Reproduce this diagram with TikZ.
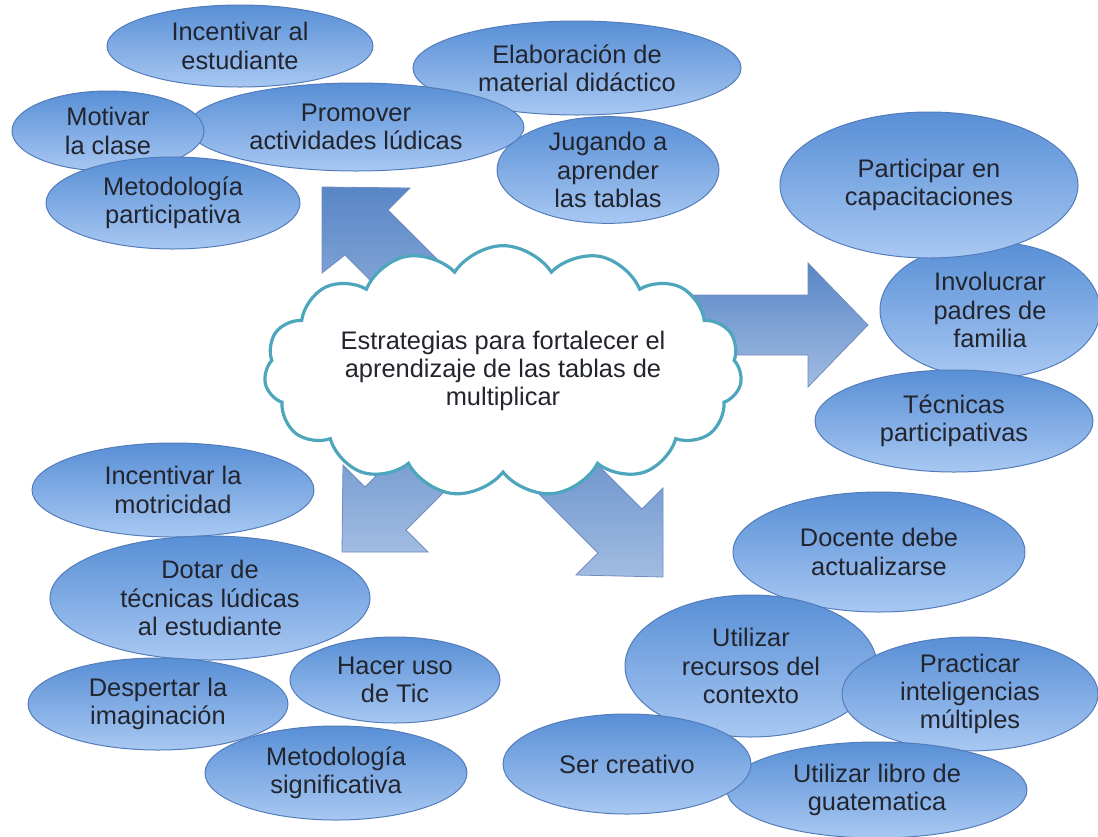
\documentclass[tikz,border=0pt]{standalone}
\usepackage{fontspec}
\setmainfont{Liberation Sans}
\usepackage{tikz}
\usetikzlibrary{shapes.geometric, shapes.symbols}

\definecolor{ovaltop}{RGB}{88,143,214}
\definecolor{ovalbot}{RGB}{168,200,242}
\definecolor{ovalline}{RGB}{84,124,186}
\definecolor{arrtop}{RGB}{88,134,198}
\definecolor{arrbot}{RGB}{162,188,226}
\definecolor{arrline}{RGB}{112,140,190}
\definecolor{cloudline}{RGB}{78,166,188}
\definecolor{ink}{RGB}{34,36,46}

\tikzset{
  idea/.style={ellipse, draw=ovalline, line width=.5pt, top color=ovaltop,
    bottom color=ovalbot, inner sep=0pt, align=center, text=ink,
    font=\fontsize{12.7}{14.2}\selectfont},
  sz/.style 2 args={minimum width=#1pt, minimum height=#2pt},
  blockarr/.style={draw=arrline, line width=.4pt, top color=arrtop, bottom color=arrbot}
}

\begin{document}
\begin{tikzpicture}[x=.5pt, y=-.5pt]
\useasboundingbox (0,0) rectangle (1098,836);

% big arrows (under the cloud)
\path[blockarr] (322,187) -- (410,188) -- (388,210) -- (498,320) -- (455,365) -- (345,255) -- (322,273) -- cycle;
\path[blockarr] (868,325) -- (808,263) -- (808,295) -- (660,295) -- (660,355) -- (808,355) -- (808,387) -- cycle;
\path[blockarr] (342,552) -- (343,465) -- (365,487) -- (465,387) -- (506,430) -- (406,530) -- (428,552) -- cycle;
\path[blockarr] (663,577) -- (663,488) -- (642,509) -- (542,409) -- (498,453) -- (598,553) -- (576,575) -- cycle;

% centre
\node[cloud, cloud puffs=15, cloud puff arc=115, aspect=2.3, draw=cloudline, fill=white,
  line width=1.6pt, inner sep=1pt, minimum width=230pt, minimum height=90pt,
  align=center, text=ink, font=\fontsize{12.7}{14.2}\selectfont] (core) at (503,371)
  {Estrategias para fortalecer el\\aprendizaje de las tablas de\\multiplicar};

% top left
\node[idea, sz={111}{48}] (jugando) at (608,170) {Jugando a\\aprender\\las tablas};
\node[idea, sz={164}{47}] (elab) at (577,68) {Elaboración de\\material didáctico};
\node[idea, sz={168}{44}] (promov) at (356,127) {Promover\\actividades lúdicas};
\node[idea, sz={133}{41}] (incest) at (240,46) {Incentivar al\\estudiante};
\node[idea, sz={96}{40}] (motiv) at (108,131) {Motivar\\la clase};
\node[idea, sz={127}{46}] (metpart) at (173,203) {Metodología\\participativa};

% right
\node[idea, sz={110}{68}] (involuc) at (990,310) {Involucrar\\padres de\\familia};
\node[idea, sz={149}{73}] (partic) at (929,185) {Participar en\\capacitaciones};
\node[idea, sz={139}{51}] (tecpart) at (954,421) {Técnicas\\participativas};

% bottom left
\node[idea, sz={141}{47}] (motric) at (173,490) {Incentivar la\\motricidad};
\node[idea, sz={160}{62}] (dotar) at (210,598) {Dotar de\\técnicas lúdicas\\al estudiante};
\node[idea, sz={105}{43}] (tic) at (395,680) {Hacer uso\\de Tic};
\node[idea, sz={130}{46}] (despert) at (158,704) {Despertar la\\imaginación};
\node[idea, sz={131}{47}] (metsig) at (336,773) {Metodología\\significativa};

% bottom right
\node[idea, sz={146}{60}] (docente) at (879,552) {Docente debe\\actualizarse};
\node[idea, sz={126}{71}] (recursos) at (751,666) {Utilizar\\recursos del\\contexto};
\node[idea, sz={128}{54}] (practic) at (970,694) {Practicar\\inteligencias\\múltiples};
\node[idea, sz={150}{48}] (libro) at (877,790) {Utilizar libro de\\guatematica};
\node[idea, sz={124}{50}] (creativo) at (627,764) {Ser creativo};
\end{tikzpicture}
\end{document}
